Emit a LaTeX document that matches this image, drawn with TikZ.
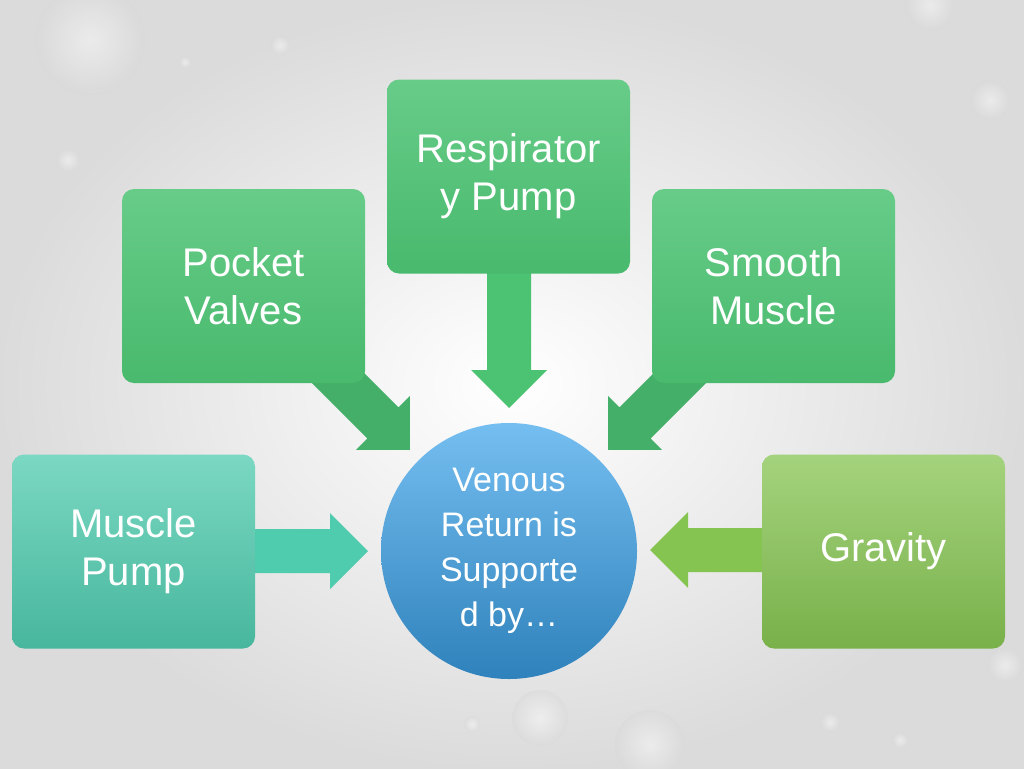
\documentclass[tikz,border=0pt]{standalone}
\usepackage{fontspec}
\setmainfont{Liberation Sans}
\begin{document}
\begin{tikzpicture}[x=1pt,y=-1pt,
  box/.style={rounded corners=12,minimum width=243,minimum height=194,inner sep=0,align=center,text=white,font=\fontsize{40}{48}\selectfont},
  gbox/.style={box,top color=green1!85!white,bottom color=green1!95!black},
  drop/.style={inner color=white,outer color=gray!30,opacity=0.45}]
\definecolor{green1}{HTML}{4CC373}
\definecolor{teal1}{HTML}{4FCBAE}
\definecolor{lime1}{HTML}{86C452}
\definecolor{blue1}{HTML}{3AA2EA}
\useasboundingbox (0,0) rectangle (1024,768);
\shade[inner color=white,outer color=gray!28] (0,0) rectangle (1024,768);
% droplets
\foreach \x/\y/\r in {90/40/55,280/45/10,185/62/6,68/160/12,990/100/20,930/5/25,1005/665/18,830/722/10,540/718/28,650/745/35,472/724/8,900/740/8}
  \shade[drop] (\x,\y) circle (\r);
\newcommand{\blkarrow}[5]{%
  \begin{scope}[shift={(#1,#2)},rotate=#3]
  \fill[#5] (0,-22) -- (#4-38,-22) -- (#4-38,-38) -- (#4,0) -- (#4-38,38) -- (#4-38,22) -- (0,22) -- cycle;
  \end{scope}}
\blkarrow{320}{360}{-45}{127}{green1!90!black}
\blkarrow{698}{360}{-135}{127}{green1!90!black}
\blkarrow{509}{273}{-90}{135}{green1}
\blkarrow{255}{551}{0}{113}{teal1}
\blkarrow{762}{550}{180}{112}{lime1}
\node[gbox] (pv) at (243.5,286) {Pocket\\Valves};
\node[gbox] (rp) at (508.5,176.5) {Respirator\\y Pump};
\node[gbox] (sm) at (773.5,286) {Smooth\\Muscle};
\node[box,top color=teal1!75!white,bottom color=teal1!90!black] (mp) at (133.5,551.5) {Muscle\\Pump};
\node[box,top color=lime1!75!white,bottom color=lime1!90!black] (gr) at (883.5,551.5) {Gravity};
\node[circle,minimum size=256,inner sep=0,align=center,text=white,top color=blue1!70!white,bottom color=blue1!80!black,font=\fontsize{34}{45}\selectfont] (vr) at (509,551) {Venous\\Return is\\Supporte\\d by\ldots};
\end{tikzpicture}
\end{document}
